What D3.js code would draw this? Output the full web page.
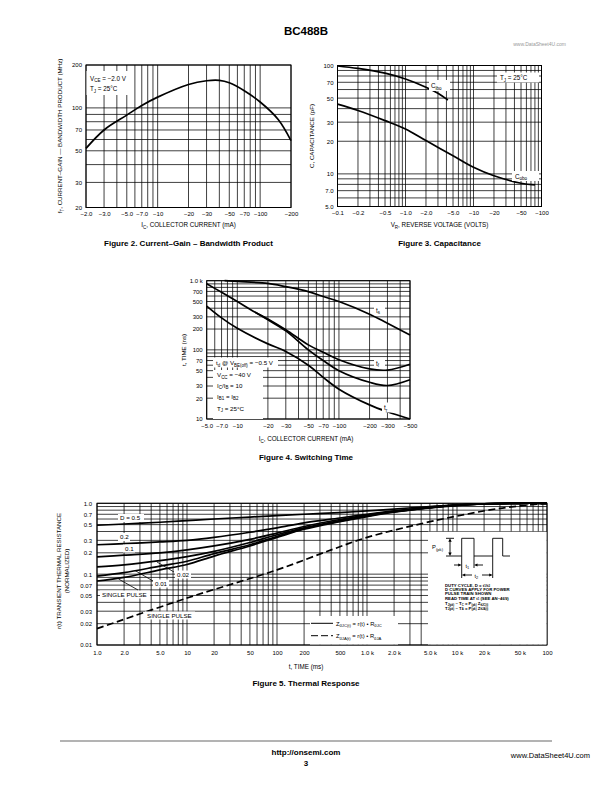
<!DOCTYPE html>
<html><head><meta charset="utf-8">
<script src="https://cdn.jsdelivr.net/npm/d3@7"></script>
<style>
body{margin:0;background:#fff}
svg{display:block}
text{font-family:"Liberation Sans",Arial,Helvetica,sans-serif;fill:#000}
</style>
</head><body>
<svg id="page" width="612" height="792"></svg>
<script>
// ---------------- DATA ----------------
// Figure 2: Current-Gain - Bandwidth Product
const fig2Ic = [2, 3, 5, 7, 10, 20, 30, 40, 50, 70, 100, 150, 200];
const fig2Ft = [52, 70, 89, 104, 119, 146, 155, 156, 150, 132, 110, 83, 59];
const fig2XTicks = [2, 3, 5, 7, 10, 20, 30, 50, 70, 100, 200];
const fig2XLabels = ["−2.0","−3.0","−5.0","−7.0","−10","−20","−30","−50","−70","−100","−200"];
const fig2YTicks = [200, 100, 70, 50, 30, 20];
const fig2YLabels = ["200","100","70","50","30","20"];

// Figure 3: Capacitance
const fig3VrIbo = [0.1, 0.2, 0.5, 1, 2, 3, 4.2];
const fig3Cibo  = [99, 94, 85, 75, 63, 55.5, 48];
const fig3VrObo = [0.1, 0.2, 0.5, 1, 2, 5, 10, 20, 50, 80];
const fig3Cobo  = [44, 38.4, 31, 26, 20.3, 14.7, 11.5, 9.6, 8.2, 7.9];
const fig3XTicks = [0.1, 0.2, 0.5, 1, 2, 5, 10, 20, 50, 100];
const fig3XLabels = ["−0.1","−0.2","−0.5","−1.0","−2.0","−5.0","−10","−20","−50","−100"];
const fig3YTicks = [100, 70, 50, 30, 20, 10, 7, 5];
const fig3YLabels = ["100","70","50","30","20","10","7.0","5.0"];

// Figure 4: Switching Time
const fig4IcTs = [7.5, 10, 20, 30, 50, 70, 100, 200, 300, 500];
const fig4Ts   = [1000, 975, 915, 820, 695, 590, 500, 328, 242, 164];
const fig4IcTf = [5, 7, 10, 15, 20, 30, 50, 70, 100, 200, 300, 500];
const fig4Tf   = [900, 680, 500, 350, 280, 195, 118, 92, 72, 53, 51, 62];
const fig4IcT2 = [15, 20, 30, 50, 70, 100, 200, 300, 500];
const fig4T2   = [350, 272, 188, 100, 70, 50, 34, 30.5, 37];
const fig4IcTr = [5, 7, 10, 20, 30, 50, 70, 100, 200, 300, 500];
const fig4Tr   = [430, 290, 205, 122, 95, 60, 40, 27, 16, 12.7, 10];
const fig4XTicks = [5, 7, 10, 20, 30, 50, 70, 100, 200, 300, 500];
const fig4XLabels = ["−5.0","−7.0","−10","−20","−30","−50","−70","−100","−200","−300","−500"];
const fig4YTicks = [1000, 700, 500, 300, 200, 100, 70, 50, 30, 20, 10];
const fig4YLabels = ["1.0 k","700","500","300","200","100","70","50","30","20","10"];

// Figure 5: Thermal Response
const fig5T    = [1, 2, 5, 10, 20, 50, 100, 200, 500, 1000, 2000, 5000, 10000, 20000, 50000, 100000];
const fig5D05  = [0.49, 0.51, 0.54, 0.57, 0.60, 0.64, 0.67, 0.70, 0.74, 0.78, 0.83, 0.90, 0.95, 0.98, 1.0, 1.0];
const fig5D02  = [0.26, 0.27, 0.285, 0.30, 0.33, 0.39, 0.45, 0.53, 0.62, 0.70, 0.78, 0.88, 0.94, 0.98, 1.0, 1.0];
const fig5D01  = [0.175, 0.185, 0.20, 0.22, 0.25, 0.31, 0.38, 0.47, 0.59, 0.68, 0.77, 0.87, 0.94, 0.98, 1.0, 1.0];
const fig5D002 = [0.127, 0.135, 0.155, 0.177, 0.21, 0.28, 0.36, 0.45, 0.57, 0.67, 0.76, 0.87, 0.94, 0.98, 1.0, 1.0];
const fig5D001 = [0.094, 0.105, 0.13, 0.152, 0.195, 0.26, 0.34, 0.44, 0.56, 0.66, 0.76, 0.87, 0.94, 0.98, 1.0, 1.0];
const fig5Single = [0.08, 0.09, 0.115, 0.137, 0.18, 0.25, 0.33, 0.43, 0.55, 0.65, 0.75, 0.86, 0.93, 0.98, 1.0, 1.0];
const fig5JaT  = [1, 10, 100, 400, 1000, 5000, 10000, 30000, 100000];
const fig5JaR  = [0.017, 0.046, 0.115, 0.22, 0.33, 0.55, 0.66, 0.85, 1.0];
const fig5XTicks = [1, 2, 5, 10, 20, 50, 100, 200, 500, 1000, 2000, 5000, 10000, 20000, 50000, 100000];
const fig5XLabels = ["1.0","2.0","5.0","10","20","50","100","200","500","1.0 k","2.0 k","5.0 k","10 k","20 k","50 k","100"];
const fig5YTicks = [1, 0.7, 0.5, 0.3, 0.2, 0.1, 0.07, 0.05, 0.03, 0.02, 0.01];
const fig5YLabels = ["1.0","0.7","0.5","0.3","0.2","0.1","0.07","0.05","0.03","0.02","0.01"];

// ---------------- HELPERS ----------------
const svg = d3.select("#page");

function logVals(lo, hi) {
  const out = [];
  for (let e = Math.floor(Math.log10(lo)) - 1; e <= Math.ceil(Math.log10(hi)); e++) {
    for (let m = 1; m <= 9; m++) {
      const v = +(m * Math.pow(10, e)).toPrecision(6);
      if (v >= lo * 0.9999 && v <= hi * 1.0001) out.push(v);
    }
  }
  return out;
}

// rich text: parts are strings or ["s", text] for subscripts
function rich(sel, x, y, parts, size, opts = {}) {
  const t = sel.append("text").attr("x", x).attr("y", y)
    .attr("font-size", size)
    .attr("text-anchor", opts.anchor || "start")
    .attr("font-weight", opts.weight || "normal");
  if (opts.transform) t.attr("transform", opts.transform);
  let shifted = false;
  const sh = size * (opts.shift || 0.3);
  const ss = opts.subSize || 0.72;
  parts.forEach(p => {
    if (typeof p === "string") {
      const ts = t.append("tspan").attr("font-size", size).text(p);
      if (shifted) { ts.attr("dy", -sh); shifted = false; }
    } else {
      const ts = t.append("tspan").attr("font-size", size * ss).text(p[1]);
      if (!shifted) { ts.attr("dy", sh); shifted = true; }
    }
  });
  return t;
}

function whiteBox(g, x, y, w, h) {
  g.append("rect").attr("x", x).attr("y", y).attr("width", w).attr("height", h).attr("fill", "#fff");
}

function makeChart(cfg) {
  const g = svg.append("g");
  const x = d3.scaleLog().domain(cfg.xDomain).range(cfg.xRange);
  const y = d3.scaleLog().domain(cfg.yDomain).range(cfg.yRange);
  const [x0, x1] = cfg.xRange, [y0, y1] = cfg.yRange; // y0 bottom, y1 top
  const grid = g.append("g");
  grid.selectAll("line.v").data(cfg.xGrid).join("line").attr("class", "v")
    .attr("x1", d => x(d)).attr("x2", d => x(d)).attr("y1", y1).attr("y2", y0)
    .attr("stroke", "#000").attr("stroke-width", cfg.gridW || 0.75);
  grid.selectAll("line.h").data(cfg.yGrid).join("line").attr("class", "h")
    .attr("y1", d => y(d)).attr("y2", d => y(d)).attr("x1", x0).attr("x2", x1)
    .attr("stroke", "#000").attr("stroke-width", cfg.gridW || 0.75);
  g.append("rect").attr("x", x0).attr("y", y1).attr("width", x1 - x0).attr("height", y0 - y1)
    .attr("fill", "none").attr("stroke", "#000").attr("stroke-width", 1);
  const ax = g.append("g").attr("transform", `translate(0,${y0})`)
    .call(d3.axisBottom(x).tickValues(cfg.xTicks).tickFormat((d, i) => cfg.xLabels[i]).tickSize(0).tickPadding(cfg.xPad || 4));
  ax.select(".domain").remove();
  ax.selectAll("text").attr("font-size", 6).attr("font-family", '"Liberation Sans",Arial,sans-serif');
  const ay = g.append("g").attr("transform", `translate(${x0},0)`)
    .call(d3.axisLeft(y).tickValues(cfg.yTicks).tickFormat((d, i) => cfg.yLabels[i]).tickSize(0).tickPadding(cfg.yPad || 4));
  ay.select(".domain").remove();
  ay.selectAll("text").attr("font-size", 6).attr("font-family", '"Liberation Sans",Arial,sans-serif');
  return { g, x, y };
}

function curve(c, xs, ys, opts = {}) {
  const pts = xs.map((v, i) => [c.x(v), c.y(ys[i])]);
  const p = c.g.append("path").datum(pts)
    .attr("d", d3.line().curve(d3.curveCatmullRom.alpha(0.5)))
    .attr("fill", "none").attr("stroke", "#000")
    .attr("stroke-width", opts.w || 1.7).attr("stroke-linecap", "butt");
  if (opts.dash) p.attr("stroke-dasharray", opts.dash);
  return p;
}

// ---------------- PAGE HEADER ----------------
svg.append("text").attr("x", 306).attr("y", 35).attr("text-anchor", "middle")
  .attr("font-size", 11.5).attr("font-weight", "bold").text("BC488B");
svg.append("text").attr("x", 566).attr("y", 46).attr("text-anchor", "end")
  .attr("font-size", 5).style("fill", "#999")
  .attr("font-family", '"Liberation Serif",serif').text("www.DataSheet4U.com");

// ---------------- FIGURE 2 ----------------
{
  const c = makeChart({
    xDomain: [2, 200], xRange: [86, 291],
    yDomain: [20, 200], yRange: [207.5, 65],
    xGrid: logVals(2, 200), yGrid: logVals(20, 200),
    xTicks: fig2XTicks, xLabels: fig2XLabels, yTicks: fig2YTicks, yLabels: fig2YLabels,
    xPad: 4.5, yPad: 4
  });
  whiteBox(c.g, 86.5, 71, 46, 24);
  rich(c.g, 90, 80.5, ["V", ["s", "CE"], " = −2.0 V"], 6.3);
  rich(c.g, 90, 91, ["T", ["s", "J"], " = 25°C"], 6.3);
  curve(c, fig2Ic, fig2Ft);
  rich(c.g, 62, 136, ["f", ["s", "T"], ", CURRENT–GAIN — BANDWIDTH PRODUCT (MHz)"], 6.2,
    { anchor: "middle", transform: "rotate(-90,62,136)" });
  rich(c.g, 188.5, 227, ["I", ["s", "C"], ", COLLECTOR CURRENT (mA)"], 6.3, { anchor: "middle" });
  svg.append("text").attr("x", 188.5).attr("y", 246).attr("text-anchor", "middle")
    .attr("font-size", 8).attr("font-weight", "bold").text("Figure 2. Current–Gain – Bandwidth Product");
}

// ---------------- FIGURE 3 ----------------
{
  const c = makeChart({
    xDomain: [0.1, 100], xRange: [337.5, 541.5],
    yDomain: [5, 100], yRange: [206.5, 65.5],
    xGrid: logVals(0.1, 100), yGrid: logVals(5, 100),
    xTicks: fig3XTicks, xLabels: fig3XLabels, yTicks: fig3YTicks, yLabels: fig3YLabels,
    xPad: 4.5, yPad: 4
  });
  curve(c, fig3VrIbo, fig3Cibo);
  curve(c, fig3VrObo, fig3Cobo);
  whiteBox(c.g, 429, 80, 21, 11);
  rich(c.g, 431, 88, ["C", ["s", "ibo"]], 6.3);
  whiteBox(c.g, 497, 72.5, 42, 10);
  rich(c.g, 500, 80, ["T", ["s", "J"], " = 25°C"], 6.3);
  whiteBox(c.g, 512, 171, 27, 10);
  rich(c.g, 515, 178.5, ["C", ["s", "obo"]], 6.3);
  c.g.append("text").attr("font-size", 6.2).attr("text-anchor", "middle")
    .attr("transform", "translate(314,136) rotate(-90)").text("C, CAPACITANCE (pF)");
  rich(c.g, 439.5, 227, ["V", ["s", "R"], ", REVERSE VOLTAGE (VOLTS)"], 6.3, { anchor: "middle" });
  svg.append("text").attr("x", 439.5).attr("y", 246).attr("text-anchor", "middle")
    .attr("font-size", 8).attr("font-weight", "bold").text("Figure 3. Capacitance");
}

// ---------------- FIGURE 4 ----------------
{
  const c = makeChart({
    xDomain: [5, 500], xRange: [206.7, 410],
    yDomain: [10, 1000], yRange: [419, 280.7],
    xGrid: logVals(5, 500), yGrid: logVals(10, 1000),
    xTicks: fig4XTicks, xLabels: fig4XLabels, yTicks: fig4YTicks, yLabels: fig4YLabels,
    xPad: 4.5, yPad: 4
  });
  whiteBox(c.g, 213, 357.5, 65, 10);
  rich(c.g, 216, 365, ["t", ["s", "d"], " @ V", ["s", "BE(off)"], " = −0.5 V"], 6.2);
  whiteBox(c.g, 213, 370, 50, 49);
  rich(c.g, 217, 377, ["V", ["s", "CC"], " = −40 V"], 6.2);
  rich(c.g, 217, 387.5, ["I", ["s", "C"], "/I", ["s", "B"], " = 10"], 6.2);
  rich(c.g, 217, 398.5, ["I", ["s", "B1"], " = I", ["s", "B2"]], 6.2);
  rich(c.g, 217, 410.5, ["T", ["s", "J"], " = 25°C"], 6.2);
  curve(c, fig4IcTs, fig4Ts);
  curve(c, fig4IcTf, fig4Tf);
  curve(c, fig4IcT2, fig4T2);
  curve(c, fig4IcTr, fig4Tr);
  whiteBox(c.g, 374, 305, 11, 10);
  rich(c.g, 376, 312.5, ["t", ["s", "s"]], 6.3);
  whiteBox(c.g, 374, 358, 11, 10);
  rich(c.g, 376, 365.5, ["t", ["s", "f"]], 6.3);
  whiteBox(c.g, 382, 402.5, 11, 10);
  rich(c.g, 384, 410, ["t", ["s", "r"]], 6.3);
  c.g.append("text").attr("font-size", 6.2).attr("text-anchor", "middle")
    .attr("transform", "translate(186,350) rotate(-90)").text("t, TIME (ns)");
  rich(c.g, 306, 441, ["I", ["s", "C"], ", COLLECTOR CURRENT (mA)"], 6.3, { anchor: "middle" });
  svg.append("text").attr("x", 306).attr("y", 460).attr("text-anchor", "middle")
    .attr("font-size", 8).attr("font-weight", "bold").text("Figure 4. Switching Time");
}

// ---------------- FIGURE 5 ----------------
{
  const c = makeChart({
    xDomain: [1, 100000], xRange: [97, 547],
    yDomain: [0.01, 1], yRange: [645, 503.3],
    xGrid: logVals(1, 100000), yGrid: logVals(0.01, 1),
    xTicks: fig5XTicks, xLabels: fig5XLabels, yTicks: fig5YTicks, yLabels: fig5YLabels,
    xPad: 5.5, yPad: 5
  });
  // inset white panel
  whiteBox(c.g, 428, 531.7, 118.5, 112.8);
  // legend panel
  whiteBox(c.g, 310, 616, 88, 28.5);
  // curves
  curve(c, fig5T, fig5D05);
  curve(c, fig5T, fig5D02);
  curve(c, fig5T, fig5D01);
  curve(c, fig5T, fig5D002);
  curve(c, fig5T, fig5D001);
  curve(c, fig5T, fig5Single);
  curve(c, fig5JaT, fig5JaR, { dash: "7,3.5" });
  // curve labels
  const lab = (x, y, w, txt) => { whiteBox(c.g, x - 2, y - 6, w, 8);
    c.g.append("text").attr("x", x).attr("y", y).attr("font-size", 6.2).text(txt); };
  lab(120, 520, 26, "D = 0.5");
  lab(120, 539, 12, "0.2");
  lab(125, 550.5, 12, "0.1");
  lab(177, 576.5, 16, "0.02");
  lab(155, 585.5, 16, "0.01");
  lab(102, 596.5, 50, "SINGLE PULSE");
  lab(147, 617.5, 50, "SINGLE PULSE");
  const leader = (x1, y1, x2, y2) => c.g.append("line").attr("x1", x1).attr("y1", y1)
    .attr("x2", x2).attr("y2", y2).attr("stroke", "#000").attr("stroke-width", 0.8);
  leader(174, 572, 157, 562);
  leader(153, 581, 135, 570.5);
  leader(138, 590, 118.5, 579);
  // legend
  c.g.append("line").attr("x1", 311).attr("x2", 333).attr("y1", 623.3).attr("y2", 623.3)
    .attr("stroke", "#000").attr("stroke-width", 1);
  c.g.append("line").attr("x1", 311).attr("x2", 333).attr("y1", 635.7).attr("y2", 635.7)
    .attr("stroke", "#000").attr("stroke-width", 1).attr("stroke-dasharray", "7,3");
  rich(c.g, 336, 625.5, ["Z", ["s", "θJC(t)"], " = r(t) • R", ["s", "θJC"]], 5.8);
  rich(c.g, 336, 638, ["Z", ["s", "θJA(t)"], " = r(t) • R", ["s", "θJA"]], 5.8);
  // inset pulse diagram
  const ins = c.g.append("g").attr("stroke", "#000").attr("fill", "none").attr("stroke-width", 0.9);
  const top = 538.3, bot = 556;
  ins.append("path").attr("d",
    `M446,${top}H454 M446,${bot}H461.7V${top}H474V${bot}H492.7V${top}H502.7V${bot}H510`);
  ins.append("line").attr("x1", 450).attr("x2", 450).attr("y1", top + 2).attr("y2", bot - 2);
  const tri = (pts) => c.g.append("path").attr("d", "M" + pts.join("L") + "Z").attr("fill", "#000");
  tri([[450, top], [448.3, top + 3.5], [451.7, top + 3.5]]);
  tri([[450, bot], [448.3, bot - 3.5], [451.7, bot - 3.5]]);
  ins.append("path").attr("d", `M461.7,${bot}V578 M474,${bot}V568 M492.7,${bot}V578`);
  ins.append("path").attr("d", `M454,565H459 M476.5,565H483`);
  tri([[461.7, 565], [458.2, 563.5], [458.2, 566.5]]);
  tri([[474, 565], [477.5, 563.5], [477.5, 566.5]]);
  ins.append("path").attr("d", `M464,575H472 M482,575H490.5`);
  tri([[461.7, 575], [465.2, 573.5], [465.2, 576.5]]);
  tri([[492.7, 575], [489.2, 573.5], [489.2, 576.5]]);
  rich(c.g, 432, 549, ["P", ["s", "(pk)"]], 5.8);
  rich(c.g, 465.5, 567.5, ["t", ["s", "1"]], 5.5);
  rich(c.g, 474.5, 577.5, ["t", ["s", "2"]], 5.5);
  const f = 4.3, io = { weight: "bold", shift: 0.18, subSize: 0.65 };
  rich(c.g, 445, 586.5, ["DUTY CYCLE, D = t", ["s", "1"], "/t", ["s", "2"]], f, io);
  rich(c.g, 445, 591, ["D CURVES APPLY FOR POWER"], f, io);
  rich(c.g, 445, 595.3, ["PULSE TRAIN SHOWN"], f, io);
  rich(c.g, 445, 599.6, ["READ TIME AT t", ["s", "1"], " (SEE AN–469)"], f, io);
  rich(c.g, 445, 605, ["T", ["s", "J(pk)"], " – T", ["s", "C"], " = P", ["s", "(pk)"], " Z", ["s", "θJC(t)"]], f, io);
  rich(c.g, 445, 609.5, ["T", ["s", "J(pk)"], " – T", ["s", "A"], " = P", ["s", "(pk)"], " Z", ["s", "θJA(t)"]], f, io);
  // axis titles
  c.g.append("text").attr("font-size", 6.2).attr("text-anchor", "middle")
    .attr("transform", "translate(61,571) rotate(-90)").text("r(t) TRANSIENT THERMAL RESISTANCE");
  c.g.append("text").attr("font-size", 6.2).attr("text-anchor", "middle")
    .attr("transform", "translate(69,571) rotate(-90)").text("(NORMALIZED)");
  c.g.append("text").attr("x", 306).attr("y", 668.5).attr("text-anchor", "middle")
    .attr("font-size", 6.3).text("t, TIME (ms)");
  svg.append("text").attr("x", 306).attr("y", 686).attr("text-anchor", "middle")
    .attr("font-size", 8).attr("font-weight", "bold").text("Figure 5. Thermal Response");
}

// ---------------- FOOTER ----------------
svg.append("line").attr("x1", 60).attr("x2", 552).attr("y1", 741).attr("y2", 741)
  .attr("stroke", "#000").attr("stroke-width", 0.6);
svg.append("text").attr("x", 306).attr("y", 755).attr("text-anchor", "middle")
  .attr("font-size", 8).attr("font-weight", "bold").text("http://onsemi.com");
svg.append("text").attr("x", 306).attr("y", 765.5).attr("text-anchor", "middle")
  .attr("font-size", 8).attr("font-weight", "bold").text("3");
svg.append("text").attr("x", 590).attr("y", 758).attr("text-anchor", "end")
  .attr("font-size", 7.5).attr("font-family", '"Liberation Serif",serif').text("www.DataSheet4U.com");
</script>
</body></html>
